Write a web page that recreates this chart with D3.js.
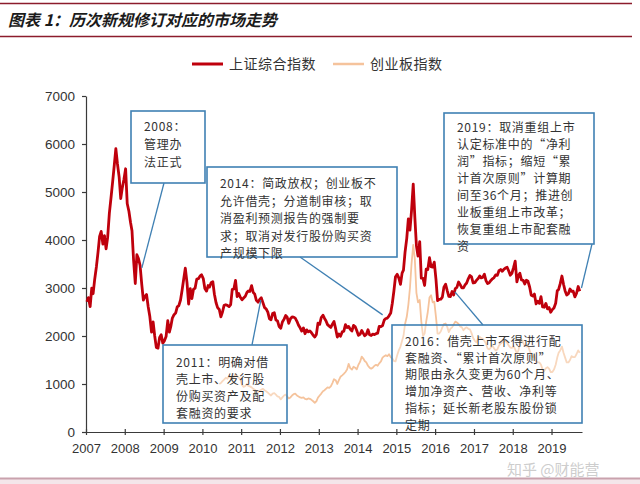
<!DOCTYPE html>
<html>
<head>
<meta charset="utf-8">
<script src="https://cdn.jsdelivr.net/npm/d3@7/dist/d3.min.js"></script>
<style>
  body { margin: 0; background: #fff; }
  svg { display: block; font-family: "Noto Sans CJK SC", "Liberation Sans", sans-serif; }
</style>
</head>
<body>
<svg id="chart" width="640" height="484"></svg>
<script>
/* -----------------------------------------------------------
   DATA — two closes per month (around the 9th and the 24th)
----------------------------------------------------------- */
const titleText = "图表 1：历次新规修订对应的市场走势";
const seriesNames = ["上证综合指数", "创业板指数"];
const yTicks = [0, 1000, 2000, 3000, 4000, 5000, 6000, 7000];
const xYears = d3.range(2007, 2020);

const shanghaiStart = [2007, 0];
const shanghai = [
  2715, 2800, 2612, 2998, 2881, 3183, 3444, 3741, 4073, 4181, 3913, 4091, 3815, 4058, 4560, 4870, 5218, 5552, 5903, 5589, 5316, 4861, 5091, 5262, // 2007
  5484, 4761, 4599, 4370, 4195, 3580, 3094, 3693, 3613, 3474, 3073, 2748, 2827, 2865, 2605, 2405, 2079, 2293, 2000, 1762, 1747, 1970, 2025, 1850, // 2008
  1904, 1990, 2320, 2082, 2194, 2374, 2444, 2477, 2606, 2632, 2750, 2959, 3189, 3412, 3111, 2667, 2987, 2779, 2976, 2996, 3187, 3195, 3247, 3277, // 2009
  3196, 2989, 2935, 3051, 3019, 3109, 3130, 2870, 2697, 2592, 2553, 2398, 2500, 2638, 2651, 2639, 2613, 2655, 2972, 2979, 3159, 2820, 2885, 2808, // 2010
  2755, 2791, 2828, 2905, 2937, 2928, 3050, 2911, 2870, 2743, 2705, 2762, 2795, 2701, 2593, 2567, 2497, 2359, 2338, 2468, 2486, 2333, 2315, 2199, // 2011
  2163, 2292, 2351, 2428, 2392, 2263, 2359, 2396, 2394, 2373, 2306, 2225, 2170, 2103, 2168, 2047, 2127, 2086, 2105, 2069, 2016, 1980, 2033, 2269, // 2012
  2243, 2385, 2433, 2365, 2318, 2237, 2206, 2178, 2247, 2301, 2148, 1979, 2040, 1994, 2085, 2098, 2236, 2175, 2198, 2141, 2106, 2220, 2196, 2116, // 2013
  2013, 2033, 2115, 2056, 2004, 2033, 2130, 2026, 2011, 2039, 2030, 2048, 2059, 2201, 2194, 2217, 2331, 2364, 2374, 2420, 2478, 2683, 2938, 3235, // 2014
  3285, 3210, 3075, 3310, 3372, 3748, 4034, 4442, 4205, 4612, 5166, 4478, 3877, 3664, 3965, 3206, 3200, 3053, 3391, 3383, 3632, 3445, 3434, 3539, // 2015
  3186, 2738, 2763, 2767, 2810, 3018, 3078, 2946, 2827, 2821, 2927, 2854, 2988, 3012, 3125, 3070, 3002, 3004, 3064, 3104, 3196, 3262, 3232, 3104, // 2016
  3112, 3159, 3196, 3253, 3212, 3222, 3286, 3154, 3091, 3110, 3158, 3192, 3217, 3273, 3262, 3360, 3384, 3348, 3390, 3416, 3432, 3353, 3266, 3307, // 2017
  3428, 3558, 3129, 3260, 3307, 3168, 3159, 3082, 3163, 3141, 3021, 2847, 2831, 2873, 2669, 2725, 2681, 2821, 2606, 2599, 2679, 2567, 2593, 2494, // 2018
  2553, 2584, 2682, 2941, 2970, 3091, 3250, 3078, 2939, 2853, 2881, 2979, 2930, 2932, 2815, 2886, 3031, 2932                                      // 2019
];

const chinextStart = [2010, 5];
const chinext = [
  1000, 1020, 1060, 1090, 1130, 1110, 1160, 1130, 1100, 1150, 1210, 1170, 1130, 1100,                                                           // 2010 (Jun-)
  980, 940, 960, 1000, 960, 950, 930, 900, 880, 850, 830, 860, 880, 900, 870, 850, 820, 790, 760, 800, 810, 780, 740, 730,                        // 2011
  680, 720, 760, 780, 740, 700, 720, 760, 790, 800, 760, 740, 720, 710, 720, 690, 680, 700, 690, 670, 640, 610, 640, 715,                         // 2012
  760, 800, 850, 870, 900, 930, 920, 950, 1020, 1100, 1080, 1000, 1080, 1150, 1180, 1210, 1250, 1300, 1420, 1330, 1300, 1360, 1340, 1304,         // 2013
  1400, 1460, 1570, 1530, 1480, 1450, 1380, 1340, 1320, 1340, 1380, 1400, 1380, 1430, 1470, 1550, 1580, 1600, 1580, 1620, 1560, 1530, 1480, 1470, // 2014
  1600, 1700, 1780, 1900, 2000, 2250, 2400, 2650, 3000, 3500, 3900, 3600, 2900, 2700, 2750, 2300, 2000, 2050, 2300, 2500, 2800, 2850, 2700, 2715, // 2015
  2400, 2050, 2050, 2100, 2180, 2250, 2260, 2190, 2080, 2150, 2180, 2240, 2300, 2280, 2250, 2200, 2180, 2120, 2160, 2180, 2150, 2140, 2060, 1960, // 2016
  1900, 1870, 1950, 1980, 1960, 1940, 1900, 1840, 1740, 1720, 1760, 1800, 1740, 1700, 1720, 1800, 1840, 1870, 1880, 1900, 1860, 1800, 1760, 1750, // 2017
  1790, 1720, 1640, 1700, 1850, 1930, 1860, 1800, 1780, 1800, 1700, 1600, 1560, 1600, 1480, 1450, 1450, 1400, 1300, 1270, 1330, 1350, 1320, 1250, // 2018
  1250, 1300, 1400, 1550, 1650, 1700, 1780, 1650, 1550, 1450, 1450, 1500, 1580, 1560, 1560, 1620, 1700, 1650                                      // 2019
];

const noteTexts = [
  ["2008：", "管理办", "法正式"],
  ["2014：简政放权；创业板不", "允许借壳；分道制审核；取", "消盈利预测报告的强制要", "求；取消对发行股份购买资", "产规模下限"],
  ["2019：取消重组上市", "认定标准中的“净利", "润”指标；缩短“累", "计首次原则”计算期", "间至36个月；推进创", "业板重组上市改革；", "恢复重组上市配套融", "资"],
  ["2011：明确对借", "壳上市、发行股", "份购买资产及配", "套融资的要求"],
  ["2016：借壳上市不得进行配", "套融资、“累计首次原则”", "期限由永久变更为60个月、", "增加净资产、营收、净利等", "指标；延长新老股东股份锁", "定期"]
];
// where each leader line touches the index curve: [date, value]
const noteTargets = [
  ["2008-06-10", 3420],
  ["2014-08-25", 2440],
  ["2019-10-10", 3000],
  ["2011-07-05", 2750],
  ["2016-07-05", 2920]
];

/* -----------------------------------------------------------
   HELPERS
----------------------------------------------------------- */
const toPoints = (start, values) =>
  values.map((v, i) => ({
    date: new Date(start[0], start[1] + Math.floor(i / 2), i % 2 ? 24 : 9),
    value: v
  }));

const shPoints = toPoints(shanghaiStart, shanghai);
const cyPoints = toPoints(chinextStart, chinext);

const svg = d3.select("#chart");
const RED = "#bf000c";
const PEACH = "#f5c39c";
const BLUE = "#3f80b3";

const x = d3.scaleTime()
  .domain([new Date(2007, 0, 1), new Date(2019, 9, 15)])
  .range([86, 582]);
const y = d3.scaleLinear().domain([0, 7000]).range([432, 96]);

/* -----------------------------------------------------------
   FRAME + TITLE
----------------------------------------------------------- */
svg.append("line").attr("x1", 0).attr("x2", 632).attr("y1", 3.5).attr("y2", 3.5)
  .attr("stroke", "#8c1c2c").attr("stroke-width", 1.6);
svg.append("line").attr("x1", 0).attr("x2", 632).attr("y1", 36.5).attr("y2", 36.5)
  .attr("stroke", "#8c1c2c").attr("stroke-width", 1.3);
svg.append("text")
  .attr("x", 8).attr("y", 26)
  .attr("font-size", 16).attr("font-weight", "bold").attr("font-style", "italic")
  .attr("fill", "#1b1b1b")
  .text(titleText);

svg.append("rect").attr("x", 0).attr("y", 478).attr("width", 640).attr("height", 6).attr("fill", "#f4e6ea");
svg.append("line").attr("x1", 0).attr("x2", 640).attr("y1", 478.5).attr("y2", 478.5)
  .attr("stroke", "#c9a2ad").attr("stroke-width", 2);

/* -----------------------------------------------------------
   LEGEND
----------------------------------------------------------- */
const legend = svg.append("g").attr("class", "legend");
const legendItems = [
  { name: seriesNames[0], color: RED, x: 192, w: 3 },
  { name: seriesNames[1], color: PEACH, x: 333, w: 2.5 }
];
legendItems.forEach((d) => {
  legend.append("line")
    .attr("x1", d.x).attr("x2", d.x + 31).attr("y1", 64).attr("y2", 64)
    .attr("stroke", d.color).attr("stroke-width", d.w);
  legend.append("text")
    .attr("x", d.x + 37).attr("y", 69)
    .attr("font-size", 14).attr("letter-spacing", 0.5).attr("fill", "#333")
    .text(d.name);
});

/* -----------------------------------------------------------
   AXES
----------------------------------------------------------- */
const yAxis = svg.append("g")
  .attr("transform", "translate(86,0)")
  .call(
    d3.axisLeft(y)
      .tickValues(yTicks)
      .tickFormat(d3.format("d"))
      .tickSize(4).tickSizeOuter(0).tickPadding(7)
  );

const xAxis = svg.append("g")
  .attr("transform", "translate(0,432)")
  .call(
    d3.axisBottom(x)
      .tickValues(xYears.map((yr) => new Date(yr, 0, 1)))
      .tickFormat(d3.timeFormat("%Y"))
      .tickSize(4).tickSizeOuter(0).tickPadding(8)
  );
xAxis.selectAll(".tick line").attr("y1", -3).attr("y2", 3);

[yAxis, xAxis].forEach((g) => {
  g.selectAll(".domain").attr("stroke", "#3a3a3a").attr("stroke-width", 1.2);
  g.selectAll(".tick line").attr("stroke", "#3a3a3a").attr("stroke-width", 1.2);
  g.selectAll(".tick text")
    .attr("fill", "#333").attr("font-size", 13)
    .attr("font-family", "'Liberation Sans', Arial, sans-serif");
});
yAxis.selectAll(".tick text").attr("font-size", 13.5);

/* -----------------------------------------------------------
   LINES
----------------------------------------------------------- */
const line = d3.line()
  .x((d) => x(d.date))
  .y((d) => y(d.value));

svg.append("path")
  .datum(cyPoints)
  .attr("d", line)
  .attr("fill", "none")
  .attr("stroke", PEACH)
  .attr("stroke-width", 1.8)
  .attr("stroke-linejoin", "round");

svg.append("path")
  .datum(shPoints)
  .attr("d", line)
  .attr("fill", "none")
  .attr("stroke", RED)
  .attr("stroke-width", 2.8)
  .attr("stroke-linejoin", "round");

/* -----------------------------------------------------------
   ANNOTATIONS (box layout in px, leader end on the curve)
----------------------------------------------------------- */
const noteBoxes = [
  { x: 131, y: 111, w: 74, h: 72, from: [164, 183] },
  { x: 207, y: 167, w: 190, h: 90, from: [300, 257] },
  { x: 444, y: 113, w: 150, h: 131, from: [592, 244] },
  { x: 163, y: 345, w: 124, h: 78, from: [252, 345] },
  { x: 392, y: 325, w: 190, h: 98, from: [483, 325] }
];
const noteFirstLine = [131, 188, 132, 367, 346];
const noteLineGap = [18, 17.5, 17, 17, 16.7];

const notes = svg.append("g").attr("class", "notes");
noteBoxes.forEach((b, i) => {
  const t = noteTargets[i];
  notes.append("line")
    .attr("x1", b.from[0]).attr("y1", b.from[1])
    .attr("x2", x(new Date(t[0]))).attr("y2", y(t[1]))
    .attr("stroke", BLUE).attr("stroke-width", 1.3);
  notes.append("rect")
    .attr("x", b.x).attr("y", b.y).attr("width", b.w).attr("height", b.h)
    .attr("fill", "#fff").attr("fill-opacity", 0.35)
    .attr("stroke", BLUE).attr("stroke-width", 1.6);
  const txt = notes.append("text")
    .attr("font-size", 12).attr("letter-spacing", 0.7).attr("fill", "#333");
  noteTexts[i].forEach((s, k) => {
    txt.append("tspan")
      .attr("x", b.x + 13)
      .attr("y", noteFirstLine[i] + k * noteLineGap[i])
      .text(s);
  });
});

/* -----------------------------------------------------------
   WATERMARK (kept just under the year labels)
----------------------------------------------------------- */
svg.append("text")
  .attr("x", 507).attr("y", 475)
  .attr("font-size", 15).attr("fill", "#c4c4c4").attr("fill-opacity", 0.85)
  .text("知乎 @财能营");
</script>
</body>
</html>
